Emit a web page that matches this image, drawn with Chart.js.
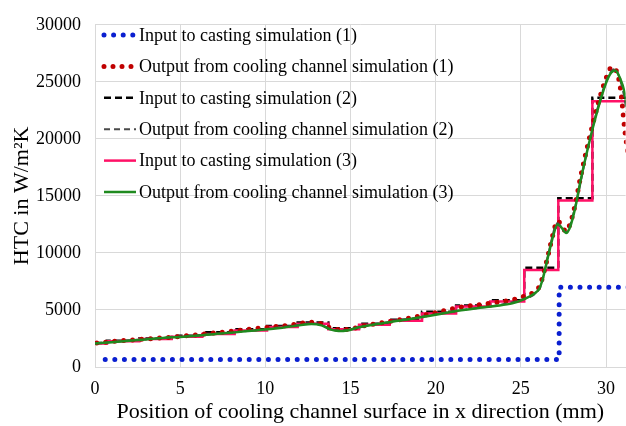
<!DOCTYPE html>
<html>
<head>
<meta charset="utf-8">
<script src="https://cdn.jsdelivr.net/npm/chart.js@4.4.1/dist/chart.umd.min.js"></script>
<style>
  html, body { margin: 0; padding: 0; background: #fff; }
  #wrap { width: 626px; height: 426px; position: relative; }
</style>
</head>
<body>
<div id="wrap"><canvas id="htc"></canvas></div>
<script>
// HTC along the cooling channel surface

// Input to casting simulation (1): two-level profile
const in1X = [0.6, 27.25, 27.25, 31.3];
const in1Y = [650, 650, 7000, 7000];

// Output from cooling channel simulation (1)
const out1X = [0.1, 1, 2, 3, 4, 5, 6, 7, 8, 9, 10, 11, 12, 12.6, 13.2, 13.8, 14.4, 15, 15.6, 16.5,
  17.5, 18.5, 19.5, 20.5, 21.5, 22.5, 23.5, 24.5, 25.2, 25.8, 26.1, 26.3, 26.6, 26.9, 27.15, 27.4,
  27.65, 27.9, 28.2, 28.5, 29, 29.5, 30, 30.35, 30.6, 30.85, 31.1, 31.3];
const out1Y = [2100, 2230, 2350, 2450, 2560, 2680, 2820, 2980, 3130, 3300, 3450, 3600, 3800, 3920, 3820, 3450, 3280, 3330, 3550, 3800,
  4050, 4300, 4600, 4950, 5250, 5450, 5650, 5900, 6200, 6600, 7100, 8000, 9800, 11700, 12800, 12400,
  11900, 12600, 14300, 16600, 19900, 22900, 25300, 26300, 26000, 24400, 20800, 18500];

// step edges shared by input (2) and input (3)
const stepX = [0, 0.7, 2.6, 4.5, 6.3, 8.2, 10.1, 11.9, 13.7, 15.5, 17.3, 19.2, 21.2, 23.2, 25.2, 27.2, 29.2, 31.3];
// Input to casting simulation (2)
const in2Y = [2100, 2300, 2500, 2750, 3050, 3300, 3600, 3900, 3400, 3800, 4150, 4850, 5400, 5850, 8700, 14800, 23600, 23600];
// Input to casting simulation (3)
const in3Y = [2050, 2250, 2450, 2650, 2900, 3200, 3500, 3800, 3300, 3700, 4050, 4700, 5300, 5750, 8500, 14600, 23300, 23300];

// Output from cooling channel simulation (2)
const out2X = [0, 2, 4, 6, 8, 10, 12, 12.7, 13.4, 14, 14.6, 15.5, 17.5, 19.5, 21.5, 23.5, 25.2, 25.9,
  26.2, 26.6, 27.15, 27.65, 28.2, 29, 30, 30.5, 31, 31.3];
const out2Y = [2070, 2320, 2560, 2780, 3030, 3320, 3700, 3820, 3620, 3250, 3220, 3500, 4000, 4480, 5000, 5380, 5980, 6500,
  7200, 9800, 12600, 11800, 14100, 19700, 25000, 26100, 24200, 21500];

// Output from cooling channel simulation (3)
const out3X = [0, 1, 2, 3, 4, 5, 6, 7, 8, 9, 10, 11, 12, 12.7, 13.3, 13.8, 14.3, 14.8, 15.5, 16.5,
  17.5, 18.5, 19.5, 20.5, 21.5, 22.5, 23.5, 24.5, 25.2, 25.8, 26.1, 26.3, 26.6, 26.9, 27.15, 27.4,
  27.65, 27.9, 28.2, 28.5, 29, 29.5, 30, 30.3, 30.55, 30.8, 31.1, 31.3];
const out3Y = [2050, 2180, 2300, 2420, 2550, 2640, 2750, 2880, 3000, 3150, 3280, 3450, 3650, 3780, 3650, 3300, 3150, 3200, 3480, 3750,
  3980, 4200, 4450, 4720, 4970, 5180, 5350, 5580, 5950, 6450, 6900, 7800, 9700, 11500, 12500, 12200,
  11750, 12300, 14000, 16300, 19600, 22500, 24900, 25800, 26000, 25400, 24000, 22000];

const xTicks = [0, 5, 10, 15, 20, 25, 30];

function pts(xs, ys) {
  return xs.map(function(x, i) { return { x: x, y: ys[i] }; });
}

const serif = "'Liberation Serif', 'Times New Roman', serif";

// legend drawn inside the plot, top-left, like the original
const insideLegend = {
  id: "insideLegend",
  afterDraw: function(chart) {
    const ctx = chart.ctx;
    ctx.save();
    ctx.font = "18px " + serif;
    ctx.textBaseline = "middle";
    ctx.fillStyle = "#000";
    chart.data.datasets.forEach(function(ds, i) {
      const y = 35 + i * 31.4;
      ctx.beginPath();
      ctx.strokeStyle = ds.borderColor;
      ctx.lineWidth = ds.borderWidth;
      ctx.setLineDash(ds.borderDash || []);
      ctx.lineCap = ds.borderCapStyle || "butt";
      ctx.moveTo(104, y);
      ctx.lineTo(136, y);
      ctx.stroke();
      ctx.setLineDash([]);
      ctx.fillText(ds.label, 139, y + 1);
    });
    ctx.restore();
  }
};

new Chart(document.getElementById("htc"), {
  type: "line",
  data: {
    datasets: [
      {
        label: "Input to casting simulation (1)",
        data: pts(in1X, in1Y),
        borderColor: "#0a1fd0",
        borderWidth: 5,
        borderDash: [0, 9.6],
        borderCapStyle: "round",
        order: 0
      },
      {
        label: "Output from cooling channel simulation (1)",
        data: pts(out1X, out1Y),
        borderColor: "#c00000",
        borderWidth: 5,
        borderDash: [0, 9],
        borderCapStyle: "round",
        cubicInterpolationMode: "monotone",
        order: 3
      },
      {
        label: "Input to casting simulation (2)",
        data: pts(stepX, in2Y),
        borderColor: "#000000",
        borderWidth: 2.5,
        borderDash: [7, 4],
        stepped: true,
        order: 5
      },
      {
        label: "Output from cooling channel simulation (2)",
        data: pts(out2X, out2Y),
        borderColor: "#4a4a4a",
        borderWidth: 2,
        borderDash: [6, 4],
        cubicInterpolationMode: "monotone",
        order: 2
      },
      {
        label: "Input to casting simulation (3)",
        data: pts(stepX, in3Y),
        borderColor: "#ff1166",
        borderWidth: 2.5,
        stepped: true,
        order: 4
      },
      {
        label: "Output from cooling channel simulation (3)",
        data: pts(out3X, out3Y),
        borderColor: "#1f8a1f",
        borderWidth: 2.5,
        cubicInterpolationMode: "monotone",
        order: 1
      }
    ]
  },
  options: {
    responsive: true,
    maintainAspectRatio: false,
    animation: false,
    elements: { point: { radius: 0 } },
    layout: { padding: { top: 18, right: 0, left: 0, bottom: 0 } },
    plugins: {
      legend: { display: false },
      tooltip: { enabled: false }
    },
    scales: {
      x: {
        type: "linear",
        min: 0,
        max: 31.15,
        afterBuildTicks: function(scale) {
          scale.ticks = xTicks.map(function(v) { return { value: v }; });
        },
        afterFit: function(scale) { scale.height = 59; },
        grid: { color: "#d9d9d9", drawTicks: false },
        border: { color: "#d9d9d9" },
        ticks: {
          includeBounds: false,
          padding: 11,
          color: "#000",
          font: { family: serif, size: 18 },
          maxRotation: 0
        },
        title: {
          display: true,
          text: "Position of cooling channel surface in x direction (mm)",
          color: "#000",
          font: { family: serif, size: 22 },
          padding: { top: 0, bottom: 1 }
        }
      },
      y: {
        min: 0,
        max: 30000,
        afterFit: function(scale) { scale.width = 95; },
        grid: { color: "#d9d9d9", drawTicks: false },
        border: { color: "#d9d9d9" },
        ticks: {
          stepSize: 5000,
          padding: 14,
          color: "#000",
          font: { family: serif, size: 18 },
          callback: function(v) { return String(v); }
        },
        title: {
          display: true,
          text: "HTC in W/m\u00b2K",
          color: "#000",
          font: { family: serif, size: 22 },
          padding: { top: 9, bottom: 0 }
        }
      }
    }
  },
  plugins: [insideLegend]
});
</script>
</body>
</html>
